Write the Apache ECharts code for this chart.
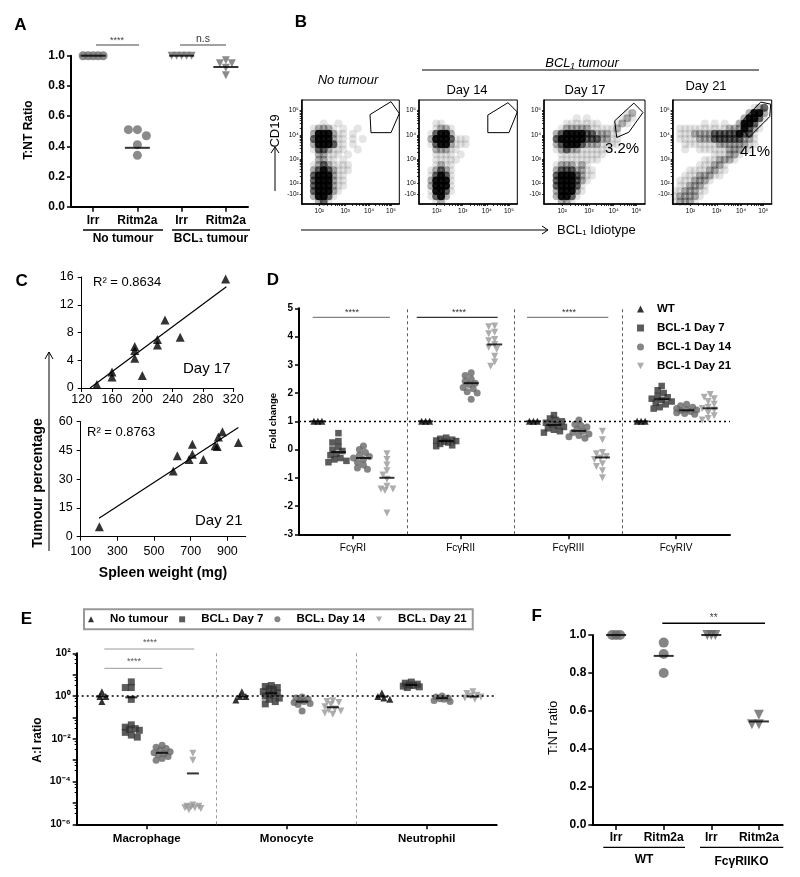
<!DOCTYPE html>
<html><head><meta charset="utf-8">
<script src="https://cdn.jsdelivr.net/npm/echarts@6/dist/echarts.min.js"></script>
<style>html,body{margin:0;padding:0;background:#fff}#c{width:800px;height:877px}</style>
</head><body><div id="c"></div>
<script>
// ---------------- DATA ----------------
// Panel A
const aCategories = ['Irr', 'Ritm2a', 'Irr', 'Ritm2a'];
const aIrrNoTumour = [1, 1, 1, 1, 1];
const aRitm2aNoTumour = [0.51, 0.51, 0.47, 0.41, 0.34];
const aIrrBcl1 = [1, 1, 1, 1, 1];
const aRitm2aBcl1 = [0.97, 0.95, 0.95, 0.92, 0.87];
const aMeans = [1.0, 0.39, 1.0, 0.925];

// Panel B (flow plots, display units 0-100 on biexponential axes)
const bTickLabels = ['-10²', '10²', '10³', '10⁴', '10⁵'];
const bXTickPos = [8, 18, 44.5, 69, 91.5];
const bYTickPos = [9, 20, 43, 66, 90];
// density estimates per 5x5-unit cell (rows top->bottom), 0-4
const bDensityNoTumour = [
 "....................",
 "....................",
 "....................",
 "....................",
 "....1..1............",
 "..12221.1..1........",
 "..2444211.1.........",
 "..3444211.1.1.......",
 "..2444311.1.........",
 "..1332111..1........",
 "...22111.1..........",
 "...2211.1...........",
 "..12321111..........",
 "..23432111..........",
 "..3444211...........",
 "..3444211...........",
 "..3444211...........",
 "..344421............",
 "..24431.............",
 "...231.............."];
const bDensityDay14 = [
 "....................",
 "....................",
 "....................",
 "....................",
 "...11...............",
 "...1221.............",
 "..13442.............",
 "..24443111..........",
 "..13442111..........",
 "...22211............",
 "...1111.1...........",
 "...11111............",
 "...1211.............",
 "..12321.............",
 "..13431.............",
 "..24441.............",
 "..24441.............",
 "..14431.............",
 "..1342..............",
 "...12..............."];
const bDensityDay17 = [
 "....................",
 "....................",
 "................12..",
 "......1.1......121..",
 "....1111111...121...",
 "...122222111112.....",
 "..2344443322211.....",
 "..3444443332211.....",
 "..2344432221111.....",
 "..12322111111.......",
 "...111111111........",
 "...11111111.........",
 "..1222121...........",
 "..23332211..........",
 "..34443211..........",
 "..3444321...........",
 "..344431............",
 "..244421............",
 "..24431.............",
 "...221.............."];
const bDensityDay21 = [
 "....................",
 "................123.",
 "...............2442.",
 "..............24431.",
 "......1.1.1..24431..",
 ".11111111112224321..",
 ".1112222333334331...",
 ".1111222333333221...",
 "..111111122222211...",
 "..1..11111122211....",
 "........111221......",
 "......1112221.......",
 ".....111221.........",
 "...11112211.........",
 "..11122211..........",
 ".1112221............",
 ".112221.............",
 "1122211.............",
 "122221..............",
 "12221..............."];
const bGateNoTumour = [[70, 86], [91.5, 98.4], [100, 87], [91.5, 68.6], [71, 68.6], [70, 86]];
const bGateDay14 = [[70, 85.5], [90.5, 97.4], [100, 88.5], [91.5, 68.6], [70, 68.6], [70, 85.5]];
const bGateDay17 = [[70, 80], [89, 97], [98, 88], [84, 69], [72, 64], [70, 80]];
const bGateDay21 = [[72, 82], [89, 98], [99, 96], [98, 84], [77, 64], [72, 70], [72, 82]];

// Panel C
const cDay17Weight = [140, 160, 160, 190, 190, 190, 200, 220, 220, 230, 250, 310];
const cDay17Tumour = [0.5, 2.3, 1.6, 6.0, 5.4, 4.3, 1.8, 7.0, 6.2, 9.8, 7.3, 15.7];
const cDay17Trend = [[131, 0], [311, 14.6]];
const cDay21Weight = [202, 605, 627, 691, 709, 709, 769, 833, 845, 851, 873, 960];
const cDay21Tumour = [5.2, 34.3, 42.3, 40.3, 48.3, 43, 40.3, 47.5, 47, 52, 54.8, 49.2];
const cDay21Trend = [[200, 9.6], [960, 57]];
const cDay21XTicks = [100, 300, 500, 700, 900];

// Panel D
const dCategories = ['FcγRI', 'FcγRII', 'FcγRIII', 'FcγRIV'];
const dWT = [[1, 1, 1], [1, 1, 1], [1, 1, 1], [1, 1, 1]];
const dDay7 = [
 [0.58, 0.3, 0.25, 0.1, 0.0, -0.05, -0.15, -0.2, -0.3, -0.4, -0.45, -0.35],
 [0.42, 0.38, 0.35, 0.32, 0.3, 0.28, 0.25, 0.2, 0.15, 0.12],
 [1.22, 1.1, 1.05, 1.0, 0.95, 0.9, 0.85, 0.8, 0.75, 0.7, 0.65, 0.6],
 [2.25, 2.1, 2.0, 1.9, 1.85, 1.8, 1.75, 1.7, 1.65, 1.6, 1.5, 1.45]];
const dDay14 = [
 [0.13, 0.0, -0.1, -0.2, -0.25, -0.3, -0.35, -0.45, -0.55, -0.65, -0.7],
 [2.72, 2.62, 2.5, 2.42, 2.35, 2.3, 2.2, 2.15, 2.05, 2.0, 1.78],
 [1.05, 0.9, 0.85, 0.8, 0.72, 0.65, 0.6, 0.55, 0.5, 0.45, 0.4],
 [1.6, 1.55, 1.5, 1.45, 1.42, 1.4, 1.38, 1.35, 1.3, 1.28, 1.25]];
const dDay21 = [
 [-0.15, -0.35, -0.55, -0.75, -0.9, -1.05, -1.3, -1.4, -1.4, -1.45, -2.25],
 [4.37, 4.35, 4.15, 4.1, 3.9, 3.85, 3.72, 3.62, 3.55, 3.3, 3.1, 2.95],
 [0.65, 0.35, -0.1, -0.15, -0.25, -0.3, -0.35, -0.5, -0.6, -0.75, -1.0],
 [1.95, 1.85, 1.8, 1.7, 1.6, 1.5, 1.45, 1.4, 1.3, 1.2, 1.1, 1.05]];
const dMeanWT = [1, 1, 1, 1];
const dMeanDay7 = [-0.09, 0.3, 0.87, 1.78];
const dMeanDay14 = [-0.3, 2.35, 0.66, 1.39];
const dMeanDay21 = [-1.0, 3.72, -0.28, 1.46];

// Panel E
const eCategories = ['Macrophage', 'Monocyte', 'Neutrophil'];
const eYLabelValues = [1e-6, 1e-4, 1e-2, 1, 100];
const eYTickValues = [1e-6, 1e-5, 1e-4, 1e-3, 1e-2, 1e-1, 1, 10, 100];
const eNoTumour = [[1.6, 0.95, 0.95, 0.55], [1.6, 0.95, 0.95, 0.65], [1.4, 0.95, 0.8, 0.7]];
const eDay7 = [
 [4.6, 2.5, 2.5, 0.7, 0.045, 0.035, 0.03, 0.028, 0.025, 0.02, 0.015, 0.012],
 [3.1, 2.8, 2.5, 2.2, 2.0, 1.6, 1.4, 1.25, 1.1, 1.0, 0.8, 0.7, 0.55, 0.43],
 [4.5, 4.0, 3.6, 3.3, 3.1, 2.9, 2.7, 2.5]];
const eDay14 = [
 [0.005, 0.004, 0.0035, 0.003, 0.0025, 0.0022, 0.002, 0.0018, 0.0015, 0.0012, 0.001],
 [0.9, 0.8, 0.7, 0.62, 0.55, 0.5, 0.45, 0.4, 0.2],
 [1.0, 0.9, 0.8, 0.75, 0.7, 0.62, 0.55]];
const eDay21 = [
 [0.0021, 0.001, 7.9e-6, 7e-6, 7e-6, 6.5e-6, 6e-6, 6e-6, 5.5e-6, 4.8e-6],
 [0.6, 0.55, 0.5, 0.4, 0.32, 0.25, 0.22, 0.2, 0.16, 0.14],
 [1.6, 1.3, 1.1, 1.0, 0.9, 0.8, 0.7]];
const eMeanNoTumour = [0.95, 0.95, 0.93];
const eMeanDay7 = [0.87, 1.35, 3.3];
const eMeanDay14 = [0.0022, 0.55, 0.8];
const eMeanDay21 = [0.00024, 0.3, 0.95];

// Panel F
const fCategories = ['Irr', 'Ritm2a', 'Irr', 'Ritm2a'];
const fIrrWT = [1, 1, 1];
const fRitm2aWT = [0.96, 0.90, 0.80];
const fIrrKO = [1, 1, 1];
const fRitm2aKO = [0.58, 0.53, 0.53];
const fMeans = [1.0, 0.89, 1.0, 0.545];

// ---------------- HELPERS ----------------
const FONT = '"Liberation Sans", Arial, Helvetica, sans-serif';
const DOWN_TRI = 'path://M0,0L10,0L5,9Z';

// deterministic beeswarm layout (pixel units -> data units), capped half-width
function swarm(vals, cx, pyu, pxu, step, isLog, thr, cap) {
  const th = thr || step;
  const maxOff = cap || 1e9;
  const pts = vals.map(v => ({ v: v, y: (isLog ? Math.log10(v) : v) * pyu }));
  pts.sort((a, b) => b.y - a.y);
  const placed = [], out = [];
  pts.forEach(p => {
    let best = 0, bestD = -1, found = false;
    for (let n = 0; n < 200; n++) {
      const k = Math.ceil(n / 2);
      const cand = n === 0 ? 0 : (n % 2 ? -k : k) * step;
      if (Math.abs(cand) > maxOff) break;
      const d = placed.length ? Math.min.apply(null, placed.map(q => Math.hypot(q.x - cand, q.y - p.y))) : 1e9;
      if (d >= th * 0.999) { best = cand; found = true; break; }
      if (d > bestD) { bestD = d; best = cand; }
    }
    placed.push({ x: best, y: p.y });
    out.push([cx + best / pxu, p.v]);
  });
  return out;
}
function densityPoints(rows) {
  const op = [0, 0.1, 0.3, 0.6, 0.92];
  const pts = [];
  rows.forEach((row, r) => {
    for (let c = 0; c < row.length && c < 20; c++) {
      const l = +row[c];
      if (l > 0) pts.push({ value: [c * 5 + 2.5, 100 - (r * 5 + 2.5)], itemStyle: { opacity: op[l] } });
    }
  });
  return pts;
}
function minorBiexTicks(pos) {
  const t = pos.slice();
  for (let i = 1; i < pos.length - 1; i++) {
    for (let k = 2; k <= 9; k++) t.push(pos[i] + Math.log10(k) * (pos[i + 1] - pos[i]));
  }
  return t;
}
function sup(n) {
  const m = { '-': '⁻', '0': '⁰', '1': '¹', '2': '²', '3': '³', '4': '⁴', '5': '⁵', '6': '⁶', '7': '⁷', '8': '⁸', '9': '⁹' };
  return String(n).split('').map(c => m[c]).join('');
}

// ---------------- GRIDS ----------------
const gridDefs = [
  { left: 71, top: 55.7, width: 177, height: 151 },
  { left: 301.7, top: 100, width: 97.6, height: 104, show: true, borderColor: '#000', borderWidth: 1 },
  { left: 419, top: 100, width: 98.3, height: 104, show: true, borderColor: '#000', borderWidth: 1 },
  { left: 544, top: 100, width: 101, height: 104, show: true, borderColor: '#000', borderWidth: 1 },
  { left: 672.7, top: 100, width: 99, height: 104, show: true, borderColor: '#000', borderWidth: 1 },
  { left: 81.7, top: 277, width: 151.5, height: 111 },
  { left: 80.7, top: 421.7, width: 165, height: 115 },
  { left: 299, top: 308.3, width: 431, height: 226 },
  { left: 76.7, top: 653.3, width: 420, height: 171 },
  { left: 592.3, top: 635, width: 190.4, height: 190 }
].map(g => Object.assign({ containLabel: false, outerBoundsMode: 'none' }, g));

const blk = '#000';
function line(w) { return { show: true, onZero: false, lineStyle: { color: blk, width: w } }; }
const noSplit = { show: false };

const xAxes = [], yAxes = [];
// A
xAxes.push({ gridIndex: 0, type: 'value', min: -0.5, max: 3.5, axisLine: line(2),
  axisTick: { show: true, customValues: [0, 1, 2, 3], length: 5, lineStyle: { width: 1.5, color: blk } },
  axisLabel: { customValues: [0, 1, 2, 3], formatter: v => aCategories[Math.round(v)], fontSize: 12, fontWeight: 'bold', color: blk, margin: 8, fontFamily: FONT },
  splitLine: noSplit });
yAxes.push({ gridIndex: 0, type: 'value', min: 0, max: 1, interval: 0.2, axisLine: line(2),
  axisTick: { show: true, length: 4, lineStyle: { width: 1.5, color: blk } },
  axisLabel: { formatter: v => v.toFixed(1), fontSize: 12, fontWeight: 'bold', color: blk, margin: 6, fontFamily: FONT },
  splitLine: noSplit });
// B
const bLabelMapX = {}, bLabelMapY = {};
bXTickPos.forEach((p, i) => bLabelMapX[p] = bTickLabels[i]);
bYTickPos.forEach((p, i) => bLabelMapY[p] = bTickLabels[i]);
for (let g = 1; g <= 4; g++) {
  xAxes.push({ gridIndex: g, type: 'value', min: 0, max: 100, axisLine: line(1.5),
    axisTick: { show: true, customValues: minorBiexTicks(bXTickPos), length: 2, lineStyle: { color: blk, width: 0.8 } },
    axisLabel: { customValues: bXTickPos, formatter: v => bLabelMapX[v] || '', fontSize: 6.5, color: blk, margin: 4, fontFamily: FONT },
    splitLine: noSplit });
  yAxes.push({ gridIndex: g, type: 'value', min: 0, max: 100, axisLine: line(1.5),
    axisTick: { show: true, customValues: minorBiexTicks(bYTickPos), length: 2, lineStyle: { color: blk, width: 0.8 } },
    axisLabel: { customValues: bYTickPos, formatter: v => bLabelMapY[v] || '', fontSize: 6.5, color: blk, margin: 3, fontFamily: FONT },
    splitLine: noSplit });
}
// C
const cLabel = { fontSize: 12.5, color: blk, fontFamily: FONT };
xAxes.push({ gridIndex: 5, type: 'value', min: 120, max: 320, interval: 40, axisLine: line(1),
  axisTick: { show: true, length: 4, lineStyle: { color: blk } }, axisLabel: Object.assign({ margin: 5 }, cLabel), splitLine: noSplit });
yAxes.push({ gridIndex: 5, type: 'value', min: 0, max: 16, interval: 4, axisLine: line(1),
  axisTick: { show: true, length: 4, lineStyle: { color: blk } }, axisLabel: Object.assign({ margin: 8 }, cLabel), splitLine: noSplit });
xAxes.push({ gridIndex: 6, type: 'value', min: 100, max: 1000, axisLine: line(1),
  axisTick: { show: true, customValues: cDay21XTicks, length: 4, lineStyle: { color: blk } },
  axisLabel: Object.assign({ margin: 8, customValues: cDay21XTicks }, cLabel), splitLine: noSplit });
yAxes.push({ gridIndex: 6, type: 'value', min: 0, max: 60, interval: 15, axisLine: line(1),
  axisTick: { show: true, length: 4, lineStyle: { color: blk } }, axisLabel: Object.assign({ margin: 8 }, cLabel), splitLine: noSplit });
// D
xAxes.push({ gridIndex: 7, type: 'value', min: -0.5, max: 3.5, axisLine: line(2),
  axisTick: { show: true, customValues: [0, 1, 2, 3], length: 5, lineStyle: { width: 1.5, color: blk } },
  axisLabel: { customValues: [0, 1, 2, 3], formatter: v => dCategories[Math.round(v)], fontSize: 10, color: blk, margin: 9, fontFamily: FONT },
  splitLine: noSplit });
yAxes.push({ gridIndex: 7, type: 'value', min: -3, max: 5, interval: 1, axisLine: line(2),
  axisTick: { show: true, length: 4, lineStyle: { width: 1.5, color: blk } },
  axisLabel: { fontSize: 10, fontWeight: 'bold', color: blk, margin: 6, fontFamily: FONT },
  splitLine: noSplit });
// E
xAxes.push({ gridIndex: 8, type: 'value', min: -0.5, max: 2.5, axisLine: line(2),
  axisTick: { show: true, customValues: [0, 1, 2], length: 5, lineStyle: { width: 1.5, color: blk } },
  axisLabel: { customValues: [0, 1, 2], formatter: v => eCategories[Math.round(v)], fontSize: 11.5, fontWeight: 'bold', color: blk, margin: 9, fontFamily: FONT },
  splitLine: noSplit });
yAxes.push({ gridIndex: 8, type: 'log', logBase: 10, min: 1e-6, max: 100, axisLine: line(2),
  axisTick: { show: true, customValues: eYTickValues, length: 4, lineStyle: { width: 1.5, color: blk } },
  minorTick: { show: true, splitNumber: 4, length: 2, lineStyle: { color: blk, width: 1 } },
  axisLabel: { customValues: eYLabelValues, formatter: v => '10' + sup(Math.round(Math.log10(v))), fontSize: 10.5, fontWeight: 'bold', color: blk, margin: 6, fontFamily: FONT },
  splitLine: noSplit, minorSplitLine: { show: false } });
// F
xAxes.push({ gridIndex: 9, type: 'value', min: -0.5, max: 3.5, axisLine: line(2),
  axisTick: { show: true, customValues: [0, 1, 2, 3], length: 5, lineStyle: { width: 1.5, color: blk } },
  axisLabel: { customValues: [0, 1, 2, 3], formatter: v => fCategories[Math.round(v)], fontSize: 12, fontWeight: 'bold', color: blk, margin: 7, fontFamily: FONT },
  splitLine: noSplit });
yAxes.push({ gridIndex: 9, type: 'value', min: 0, max: 1, interval: 0.2, axisLine: line(2),
  axisTick: { show: true, length: 4, lineStyle: { width: 1.5, color: blk } },
  axisLabel: { formatter: v => v.toFixed(1), fontSize: 12, fontWeight: 'bold', color: blk, margin: 6, fontFamily: FONT },
  splitLine: noSplit });

// ---------------- SERIES ----------------
const series = [];
function sc(idx, name, data, symbol, size, color, extra) {
  return Object.assign({ type: 'scatter', name: name, xAxisIndex: idx, yAxisIndex: idx, data: data, symbol: symbol,
    symbolSize: size, itemStyle: { color: color }, silent: true, z: 2 }, extra || {});
}
function meanLines(idx, xs, ys, len) {
  return sc(idx, '_mean' + idx, xs.map((x, i) => [x, ys[i]]), 'rect', [len, 2], '#000', { z: 5 });
}
// A
const A_PY = 151, A_PX = 44.25;
series.push(sc(0, 'A_circ', swarm(aIrrNoTumour, 0, A_PY, A_PX, 5).concat(swarm(aRitm2aNoTumour, 1, A_PY, A_PX, 9)), 'circle', 9, '#6e6e6e'));
series.push(sc(0, 'A_tri', swarm(aIrrBcl1, 2, A_PY, A_PX, 5).concat(swarm(aRitm2aBcl1, 3, A_PY, A_PX, 6)), DOWN_TRI, 8, '#6e6e6e'));
series.push(meanLines(0, [0, 1, 2, 3], aMeans, 25));
// B
const bDens = [bDensityNoTumour, bDensityDay14, bDensityDay17, bDensityDay21];
const bGates = [bGateNoTumour, bGateDay14, bGateDay17, bGateDay21];
for (let g = 1; g <= 4; g++) {
  series.push(sc(g, 'B' + g, densityPoints(bDens[g - 1]), 'circle', 8, '#000', { z: 1 }));
  series.push({ type: 'line', xAxisIndex: g, yAxisIndex: g, data: bGates[g - 1], symbol: 'none', silent: true,
    lineStyle: { color: '#000', width: 1 }, z: 3 });
}
// C
series.push(sc(5, 'C17', cDay17Weight.map((w, i) => [w, cDay17Tumour[i]]), 'triangle', 9, '#000'));
series.push({ type: 'line', xAxisIndex: 5, yAxisIndex: 5, data: cDay17Trend, symbol: 'none', silent: true, lineStyle: { color: '#000', width: 1.2 } });
series.push(sc(6, 'C21', cDay21Weight.map((w, i) => [w, cDay21Tumour[i]]), 'triangle', 9, '#000'));
series.push({ type: 'line', xAxisIndex: 6, yAxisIndex: 6, data: cDay21Trend, symbol: 'none', silent: true, lineStyle: { color: '#000', width: 1.2 } });
// D
const D_PY = 28.25, D_PX = 107.75;
const dOff = [-0.325, -0.134, 0.098, 0.316];
const dGroups = [
  { name: 'WT', vals: dWT, means: dMeanWT, sym: 'triangle', color: '#000' },
  { name: 'BCL-1 Day 7', vals: dDay7, means: dMeanDay7, sym: 'rect', color: '#333' },
  { name: 'BCL-1 Day 14', vals: dDay14, means: dMeanDay14, sym: 'circle', color: '#666' },
  { name: 'BCL-1 Day 21', vals: dDay21, means: dMeanDay21, sym: DOWN_TRI, color: '#999' }];
dGroups.forEach((grp, gi) => {
  let data = [];
  grp.vals.forEach((arr, ci) => { data = data.concat(swarm(arr, ci + dOff[gi], D_PY, D_PX, 2, false, gi === 0 ? 4 : 5, 10)); });
  const s = sc(7, grp.name, data, grp.sym, gi === 1 ? 6.5 : 7, grp.color);
  if (gi === 0) {
    s.markLine = { silent: true, symbol: 'none', label: { show: false }, animation: false,
      data: [
        { yAxis: 1, lineStyle: { type: [2, 3], color: '#000', width: 1.3 } },
        { xAxis: 0.5, lineStyle: { type: [3, 3], color: '#333', width: 0.8 } },
        { xAxis: 1.5, lineStyle: { type: [3, 3], color: '#333', width: 0.8 } },
        { xAxis: 2.5, lineStyle: { type: [3, 3], color: '#333', width: 0.8 } }] };
  }
  series.push(s);
  series.push(meanLines(7, [0, 1, 2, 3].map(c => c + dOff[gi]), grp.means, 15));
});
// E
const E_PY = 21.375, E_PX = 140;
const eOff = [-0.32, -0.11, 0.11, 0.33];
const eGroups = [
  { name: 'No tumour', vals: eNoTumour, means: eMeanNoTumour, sym: 'triangle', color: '#000' },
  { name: 'BCL₁ Day 7', vals: eDay7, means: eMeanDay7, sym: 'rect', color: '#333' },
  { name: 'BCL₁ Day 14', vals: eDay14, means: eMeanDay14, sym: 'circle', color: '#666' },
  { name: 'BCL₁ Day 21', vals: eDay21, means: eMeanDay21, sym: DOWN_TRI, color: '#999' }];
eGroups.forEach((grp, gi) => {
  let data = [];
  grp.vals.forEach((arr, ci) => { data = data.concat(swarm(arr, ci + eOff[gi], E_PY, E_PX, 2, true, 5, 9)); });
  const s = sc(8, grp.name, data, grp.sym, 7, grp.color);
  if (gi === 0) {
    s.markLine = { silent: true, symbol: 'none', label: { show: false }, animation: false,
      data: [
        { yAxis: 1, lineStyle: { type: [2, 3], color: '#000', width: 1.5 } },
        { xAxis: 0.5, lineStyle: { type: [3, 3], color: '#999', width: 1 } },
        { xAxis: 1.5, lineStyle: { type: [3, 3], color: '#999', width: 1 } }] };
  }
  series.push(s);
  series.push(meanLines(8, [0, 1, 2].map(c => c + eOff[gi]), grp.means, 12));
});
// F
const F_PY = 190, F_PX = 47.6;
series.push(sc(9, 'F_circ', swarm(fIrrWT, 0, F_PY, F_PX, 4).concat(swarm(fRitm2aWT, 1, F_PY, F_PX, 10)), 'circle', 10, '#666'));
series.push(sc(9, 'F_tri', swarm(fIrrKO, 2, F_PY, F_PX, 4).concat(swarm(fRitm2aKO, 3, F_PY, F_PX, 7)), DOWN_TRI, 10, '#666'));
series.push(meanLines(9, [0, 1, 2, 3], fMeans, 20));

// ---------------- ANNOTATIONS ----------------
function T(x, y, text, font, opts) {
  return Object.assign({ type: 'text', x: x, y: y, silent: true,
    style: Object.assign({ text: text, font: font, fill: '#000', align: 'center', verticalAlign: 'middle' }, (opts && opts.style) || {}) },
    opts && opts.rotation ? { rotation: opts.rotation } : {});
}
function L(x1, y1, x2, y2, color, w) {
  return { type: 'line', silent: true, shape: { x1: x1, y1: y1, x2: x2, y2: y2 }, style: { stroke: color || '#000', lineWidth: w || 1 } };
}
function P(points, w) {
  return { type: 'polyline', silent: true, shape: { points: points }, style: { stroke: '#000', lineWidth: w || 1, fill: null } };
}
const F = FONT;
const R90 = Math.PI / 2;
const graphic = [
  // panel letters
  T(20.5, 25, 'A', 'bold 17px ' + F), T(301, 22.5, 'B', 'bold 17px ' + F), T(21.7, 281, 'C', 'bold 17px ' + F),
  T(273, 280.7, 'D', 'bold 17px ' + F), T(26.5, 619, 'E', 'bold 17px ' + F), T(536.7, 616, 'F', 'bold 17px ' + F),
  // A
  T(29, 130, 'T:NT Ratio', 'bold 12px ' + F, { rotation: R90 }),
  L(96, 45, 139, 45, '#444', 1), T(117, 41, '****', '9px ' + F, { style: { fill: '#444' } }),
  L(180, 45, 226, 45, '#444', 1), T(203, 39.5, 'n.s', '10.5px ' + F, { style: { fill: '#333' } }),
  L(83, 230, 163, 230, '#000', 1.3), T(123, 238.5, 'No tumour', 'bold 12px ' + F),
  L(172, 230, 250, 230, '#000', 1.3), T(211, 239, 'BCL₁ tumour', 'bold 12px ' + F),
  // B
  T(582, 63, 'BCL₁ tumour', 'italic 13px ' + F), L(422, 70, 759, 70, '#000', 1),
  T(348, 80, 'No tumour', 'italic 13px ' + F),
  T(467, 90, 'Day 14', '13px ' + F), T(585, 90, 'Day 17', '13px ' + F), T(706, 86, 'Day 21', '13px ' + F),
  T(622, 149, '3.2%', '15px ' + F), T(755, 152, '41%', '15px ' + F),
  L(275, 191, 275, 147, '#000', 1), P([[271, 153], [275, 147], [279, 153]]),
  T(275, 131, 'CD19', '13px ' + F, { rotation: R90 }),
  L(301, 230, 548, 230, '#000', 1), P([[542, 226], [548, 230], [542, 234]]),
  T(557, 230, 'BCL₁ Idiotype', '13px ' + F, { style: { align: 'left' } }),
  // C
  T(93, 282, 'R² = 0.8634', '13px ' + F, { style: { align: 'left' } }),
  T(183, 369, 'Day 17', '15px ' + F, { style: { align: 'left' } }),
  T(87, 432, 'R² = 0.8763', '13px ' + F, { style: { align: 'left' } }),
  T(195, 521, 'Day 21', '15px ' + F, { style: { align: 'left' } }),
  T(163, 573, 'Spleen weight (mg)', 'bold 14px ' + F),
  T(38, 483, 'Tumour percentage', 'bold 14px ' + F, { rotation: R90 }),
  L(49, 551, 49, 352, '#000', 1), P([[45, 359], [49, 352], [53, 359]]),
  // D
  T(273, 421, 'Fold change', 'bold 9.5px ' + F, { rotation: R90 }),
  L(312.7, 317.3, 390, 317.3, '#666', 1), T(352, 313, '****', '9px ' + F, { style: { fill: '#333' } }),
  L(416.7, 317.3, 497.7, 317.3, '#000', 1), T(459, 313, '****', '9px ' + F, { style: { fill: '#333' } }),
  L(527, 317.3, 608.3, 317.3, '#666', 1), T(569, 313, '****', '9px ' + F, { style: { fill: '#333' } }),
  // E
  T(38, 740, 'A:I ratio', 'bold 12px ' + F, { rotation: R90 }),
  L(104.3, 649, 194.3, 649, '#999', 1), T(150, 642.5, '****', '9px ' + F, { style: { fill: '#555' } }),
  L(104.3, 668.3, 162.3, 668.3, '#999', 1), T(134, 661.5, '****', '9px ' + F, { style: { fill: '#555' } }),
  // F
  T(553.3, 728, 'T:NT ratio', '12.5px ' + F, { rotation: R90 }),
  L(662.3, 623.3, 765, 623.3, '#000', 1.5), T(713.7, 618, '**', '10px ' + F, { style: { fill: '#444' } }),
  L(603.3, 847.3, 685, 847.3, '#000', 1.3), T(644, 859.5, 'WT', 'bold 12px ' + F),
  L(700, 847.3, 783.3, 847.3, '#000', 1.3), T(741.5, 862, 'FcγRIIKO', 'bold 12px ' + F)
];

const option = {
  animation: false,
  backgroundColor: '#fff',
  textStyle: { fontFamily: FONT },
  grid: gridDefs,
  xAxis: xAxes,
  yAxis: yAxes,
  legend: [
    { orient: 'vertical', left: 632, top: 297, itemWidth: 7, itemHeight: 7, itemGap: 5, selectedMode: false,
      textStyle: { fontSize: 11.5, fontWeight: 'bold', color: '#000', padding: [0, 0, 0, 8], fontFamily: FONT, lineHeight: 14 },
      data: [{ name: 'WT', icon: 'triangle' }, { name: 'BCL-1 Day 7', icon: 'rect' },
             { name: 'BCL-1 Day 14', icon: 'circle' }, { name: 'BCL-1 Day 21', icon: DOWN_TRI }] },
    { orient: 'horizontal', left: 84, top: 609.3, itemWidth: 6, itemHeight: 6, itemGap: 11, selectedMode: false,
      borderColor: '#999', borderWidth: 2, padding: [3, 6, 3, 4],
      textStyle: { fontSize: 11.5, fontWeight: 'bold', color: '#000', padding: [0, 0, 0, 11], fontFamily: FONT, lineHeight: 14 },
      data: [{ name: 'No tumour', icon: 'triangle' }, { name: 'BCL₁ Day 7', icon: 'rect' },
             { name: 'BCL₁ Day 14', icon: 'circle' }, { name: 'BCL₁ Day 21', icon: DOWN_TRI }] }
  ],
  series: series,
  graphic: graphic
};
const chart = echarts.init(document.getElementById('c'), null, { renderer: 'canvas', width: 800, height: 877 });
chart.setOption(option);
</script>
</body></html>
